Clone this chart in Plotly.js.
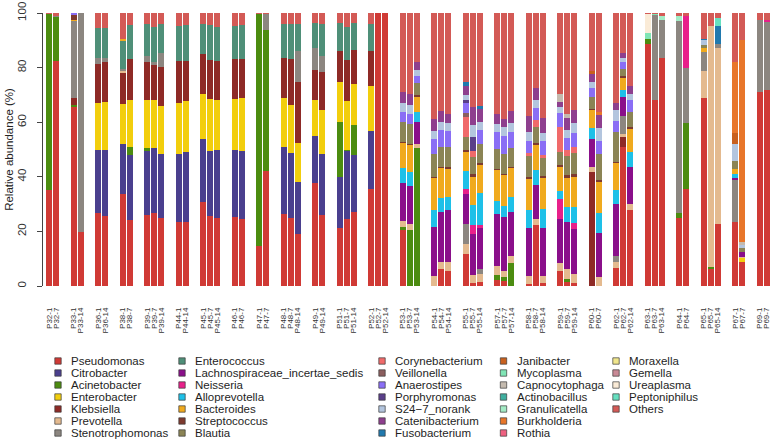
<!DOCTYPE html>
<html><head><meta charset="utf-8">
<script src="https://cdn.plot.ly/plotly-3.0.1.min.js"></script>
<style>html,body{margin:0;padding:0;background:#fff;}#chart{width:778px;height:441px;}</style>
</head><body><div id="chart"></div>
<script>
// ---------- DATA ----------
const samples = [
 "P32-1","P32-7","P33-1","P33-14","P36-1","P36-14","P38-1","P38-7","P39-1","P39-7","P39-14",
 "P44-1","P44-14","P45-1","P45-7","P45-14","P46-1","P46-7","P47-1","P47-7","P48-1","P48-7","P48-14",
 "P49-1","P49-14","P51-1","P51-7","P51-14","P52-1","P52-7","P52-14",
 "P53-1","P53-7","P53-14","P54-1","P54-7","P54-14","P55-1","P55-7","P55-14","P57-1","P57-7","P57-14",
 "P58-1","P58-7","P58-14","P59-1","P59-7","P59-14","P60-1","P60-7","P62-1","P62-7","P62-14",
 "P63-1","P63-7","P63-14","P64-1","P64-7","P65-1","P65-7","P65-14","P67-1","P67-7","P69-1","P69-7"
];

const taxa = ["Pseudomonas","Citrobacter","Acinetobacter","Enterobacter","Klebsiella","Prevotella","Stenotrophomonas",
 "Enterococcus","Lachnospiraceae_incertae_sedis","Neisseria","Alloprevotella","Bacteroides","Streptococcus","Blautia",
 "Corynebacterium","Veillonella","Anaerostipes","Porphyromonas","S24\u22127_norank","Catenibacterium","Fusobacterium",
 "Janibacter","Mycoplasma","Capnocytophaga","Actinobacillus","Granulicatella","Burkholderia","Rothia",
 "Moraxella","Gemella","Ureaplasma","Peptoniphilus","Others"];

const pseudomonas = [35.1,82.4, 65.4,19.9, 26.6,25.6, 33.7,24.1, 26,26.6,24.8, 23.5,23.5, 30.9,25.6,24.8, 25.1,24.4, 14.6,42.2, 26.3,24.8,19, 37.8,26, 21.1,24.4,27.2, 35.7,100,100,
 20.5,0,0, 0,6.1,5.6, 11.7,1,1.6, 2.2,2,0, 0.7,22.3,1, 5.6,1.6,1.2, 0,0, 6.5,51,28, 88.8,68,83.7, 24.8,35.4, 68.7,6.1,22.7, 23.5,8.9, 71.1,71.7];
const citrobacter = [0,0, 0,0, 23.4,24.1, 18.3,23.8, 23.5,23.8,23.5, 25,25.5, 22.8,23.9,25.2, 24.6,25.1, 0,0, 24.6,24,19.1, 17.1,22.3, 18.9,25.1,20.7, 21,0,0,
 0,0,0, 0,0,0, 0,0,0, 0,0,0, 0,0,0, 0,0,0, 0,0, 0,0,0, 0,0,0, 0,0, 0,0,0, 0,0, 0,0];
const acinetobacter = [64.5,16, 1,0, 0,0, 0,3, 1.2,0,0, 0,0, 0,0,0, 0,0, 84.9,51.7, 0,0,0, 0,0, 20.1,0.3,11, 0,0,0,
 1.2,20.5,50.4, 0,0,0, 0,0,0, 1.8,1.2,8.3, 0,0,0, 0,0.8,0, 0,0, 0,0,0, 1.8,0,0, 2.1,24.4, 0,0.9,0, 0,0, 0,0];
const enterobacter = [0,0, 0,0, 17.1,17.7, 14.6,17.3, 17.3,17.7,17.6, 18.5,18.9, 16.6,19.1,18, 18.9,19.2, 0,0, 17.9,17.4,14.3, 13.2,16.1, 14.6,18,15, 16.5,0,0,
 0,0,0, 0,0,0, 0,0,0, 0,0,0, 0,0,0, 0,0,0, 0,0, 0,0,0, 0,0,0, 0,0, 0,0,0, 0,1.2, 0,0];
const klebsiella = [0,0, 2.4,0, 14.4,14.6, 11.5,14.9, 14,12.8,14.4, 15.6,14.7, 14.6,14.3,14.6, 14.6,14.6, 0,0, 14.8,17.1,22.3, 11.2,14, 11.3,14.9,12.7, 12.9,0,0,
 0,0,0, 0,0,0, 0,0,0, 0,0,0, 0,0,0, 0,0,0, 41.8,0, 0,3.4,0, 0,0,0, 0,0, 0,0,0, 0,0, 0,0];
const prevotella = [0,0, 0,0, 0,0, 0.8,0, 0,0,0, 0,0, 0,0,0, 0,0, 0,0, 0,0,0, 0,0, 0,0,0, 0,0,0,
 2.2,2.2,1.6, 3.7,2.8,3.3, 3.7,3,2.7, 3.3,2.4,2.7, 2.9,2.1,2.7, 2.9,3.7,3.2, 1.8,3.2, 2.4,1.2,2.2, 0,0,0, 0,0, 10.1,88.2,64.3, 0,0.5, 0,0];
const stenotrophomonas = [0,0.4, 28.3,80.1, 2.2,1.6, 0.6,0, 2.4,1.2,4.9, 0,0, 0,0,0, 0,0, 0,5.9, 0,0,11.3, 8,5.7, 0,0,0, 0,0,0,
 0,0,0, 0,0,0, 7.3,0,1.8, 0,0,0, 0,0,0, 0,0,0, 0,0, 2.1,6.6,0, 0,31.1,13.7, 70.2,20.2, 7,0,1.8, 15.2,0, 26.5,25];
const enterococcus = [0,0, 0,0, 10.9,11, 10.1,12.6, 11.6,12.8,10.7, 12.6,13, 11.2,12.6,12.2, 12.2,12.2, 0,0, 12.4,12.6,10, 9,11.7, 10.2,12,9.8, 10,0,0,
 0,0,0, 0,0,0, 0,0,0, 0,0,0, 0,0,0, 0,0,0, 0,0, 0,0,0, 0,0,0, 0,0, 0,0,0, 0,0, 0,0];
const lachnospiraceae = [0,0, 0,0, 0,0, 0,0, 0,0,0, 0,0, 0,0,0, 0,0, 0,0, 0,0,0, 0,0, 0,0,0, 0,0,0,
 13.7,13.9,8.2, 18,18.3,19.1, 11,15.2,15, 19,19.5,16.2, 17.8,12.6,17.4, 15.9,17.4,16.3, 10.4,16.3, 19,7.1,13.4, 0,0,0, 0,0, 0,0,0, 0.9,1.8, 0,0];
const neisseria = [0,0, 0,0, 0,0, 0,0, 0,0,0, 0,0, 0,0,0, 0,0, 0,0, 0,0,0, 0,0, 0,0,0, 0,0,0,
 0,0,0, 0,0,0, 1.7,3,1.2, 0,0,0, 0,0,0, 7.3,0,2.2, 0,0, 0,0,0, 0,0,0, 0,18.8, 0,0,0, 0,0, 0,0.6];
const alloprevotella = [0,0, 0,0, 0,0, 0,0, 0,0,0, 0,0, 0,0,0, 0,0, 0,0, 0,0,0, 0,0, 0,0,0, 0,0,0,
 5.5,5.2,3.7, 6.1,4.9,4.6, 6.8,7.3,11.6, 4.9,4.1,5.5, 6.3,5.5,7, 3.2,5.5,6.1, 3.7,7.1, 5.1,2.4,5.5, 0,0,0, 0,0, 0,0,0, 1.6,0, 0,0];
const bacteroides = [0,0, 0.5,0, 0,0, 0.7,0, 0,0,0, 0,0, 0,0,0, 0,0, 0,0, 0,0,0, 0,0, 0,0,0, 0,0,0,
 9.4,9.8,5.5, 11.6,11,10.4, 7,10.4,10.4, 11.2,11.3,10.4, 11.6,9.1,11.3, 8.8,10.7,11, 6.7,11.6, 9.8,4.6,8.5, 0,0,0, 0,0, 1.2,0,0, 1.8,0, 0,0];
const streptococcus = [0,0, 1.5,0, 0,0, 0,0, 0,0,0, 0,0, 0,0,0, 0,0, 0,0, 0,0,0, 0,0, 0,0,0, 0,0,0,
 0.4,0.4,0.4, 0.6,0.6,0.5, 0.8,1,0.8, 0.6,0.6,0.6, 0.8,0.6,1, 0.6,0.8,1, 0.6,0.6, 0.6,0.5,0.6, 0,0,0, 0,0, 0,0,0, 0,0, 0,0];
const blautia = [0,0, 0,0, 0,0, 0,0, 0,0,0, 0,0, 0,0,0, 0,0, 0,0, 0,0,0, 0,0, 0,0,0, 0,0,0,
 7,7.3,4.6, 8.5,7.3,7.3, 4.6,6.3,6.8, 7.3,7.3,6.7, 7.7,5.9,6.6, 4.9,7,7.6, 4.3,9.5, 11,2.8,5.5, 0,0,0, 0,0, 1.2,0,0, 2.8,1.5, 0,0];
const corynebacterium = [0,0, 0,0, 0,0, 0,0, 0,0,0, 0,0, 0,0,0, 0,0, 0,0, 0,0,0, 0,0, 0,0,0, 0,0,0,
 0,0,0, 0,0,0, 7.3,2.4,0, 0,0,0, 0.8,2.7,1, 8.9,2.2,2.2, 0,0, 0,0,0, 0,0,0, 0,0, 0,0,0, 0,0, 0,0];
const veillonella = [0,0, 0,0, 0,0, 0,0, 0,0,0, 0,0, 0,0,0, 0,0, 0,0, 0,0,0, 0,0, 0,0,0, 0,0,0,
 0,0,0, 0,0,0, 1.6,0,0, 0,0,0, 0,0,0, 0,0,0, 0,0, 0,0,0, 0,0,0, 0,0, 0,0,0, 0,0, 0,0];
const anaerostipes = [0,0, 0.8,0, 0,0, 0,0, 0,0,0, 0,0, 0,0,0, 0,0, 0,0, 0,0,0, 0,0, 0,0,0, 0,0,0,
 3.7,3.7,2.4, 5.2,6.1,5.9, 3.4,0,5.1, 6.1,6.7,6.1, 4.4,4.3,5.1, 5.1,4.6,5.1, 3.4,4.9, 4,2.4,4.3, 0,0,0, 0,0, 0,0,0, 0,0, 0,0];
const porphyromonas = [0,0, 0,0, 0,0, 0,0, 0,0,0, 0,0, 0,0,0, 0,0, 0,0, 0,0,0, 0,0, 0,0,0, 0,0,0,
 0,0,0, 0,0,0, 1.2,4.9,0, 0,0,0, 0,0,0, 0,0,0, 0,0, 0,0,0, 0,0,0, 0,0, 0,0,0, 0,0, 0,0];
const s24_7 = [0,0, 0,0, 0,0, 0,0, 0,0,0, 0,0, 0,0,0, 0,0, 0,0, 0,0,0, 0,0, 0,0,0, 0,0,0,
 3.4,3.3,2.4, 2.9,3,2.9, 2,4.6,3, 2.8,3,3.3, 3.3,3,2.8, 2.2,2.7,3.9, 2.1,4.5, 3.9,1.6,2.4, 0,0,0, 0,0, 1.8,0,0, 6.1,1.2, 0,0];
const catenibacterium = [0,0, 0,0, 0,0, 0,0, 0,0,0, 0,0, 0,0,0, 0,0, 0,0, 0,0,0, 0,0, 0,0,0, 0,0,0,
 3.9,4,2.7, 4.4,4,3.4, 3.2,6.6,4.9, 3.9,3,4.4, 6.1,4.3,5.7, 2.1,4.6,4.6, 2.8,4.9, 2.7,1.7,3, 0,0,0, 0,0, 0,0,0, 0,0, 0,0];
const fusobacterium = [0,0, 0,0, 0,0, 0,0, 0,0,0, 0,0, 0,0,0, 0,0, 0,0, 0,0,0, 0,0, 0,0,0, 0,0,0,
 0,0,0, 0,0,0, 1.5,0,1.2, 0,0,0, 0,0,0, 0,0,0, 0,0, 0,0,0, 0,0,0, 0,0, 0.6,0,6.3, 0,0, 0,0];
const janibacter = [0,0, 0,0, 0,0, 0,0, 0,0,0, 0,0, 0,0,0, 0,0, 0,0, 0,0,0, 0,0, 0,0,0, 0,0,0,
 0,0,0, 0,0,0, 0,0,0, 0,0,0, 0,0,0, 0,0,0, 1.2,0, 0,0,0, 0,0,0, 0,0, 0,0,0, 4.1,0, 0,0];
const mycoplasma = [0,0, 0,0, 0,0, 0,0, 0,0,0, 0,0, 0,0,0, 0,0, 0,0, 0,0,0, 0,0, 0,0,0, 0,0,0,
 0,0,0, 0,0,0, 0,0,0, 0,0,0, 0,0,0, 0,0,0, 0,0, 0,0,0, 2.1,0.5,0, 0,0, 0,0,0, 0,0, 0,0];
const capnocytophaga = [0,0, 0,0, 0,0, 0,0, 0,0,0, 0,0, 0,0,0, 0,0, 0,0, 0,0,0, 0,0, 0,0,0, 0,0,0,
 0,0,0, 0,0,0, 0,0,0, 0,0,0, 0,0,0, 2.8,1.5,0, 0,0, 0,0,0, 0,0,0, 0,0, 0,0,0, 0,1.2, 0,0];
const actinobacillus = [0,0, 0,0, 0,0, 0,0, 0,0,0, 0,0, 0,0,0, 0,0, 0,0, 0,0,0, 0,0, 0,0,0, 0,0,0,
 0,0,0, 0,0,0, 0,0,0, 0,0,0, 0,0,0, 0,0,0, 0,0, 0,0,0, 0,0,0, 0,0, 0,0,0, 0,0, 0,0];
const granulicatella = [0,0, 0,0, 0,0, 0,0, 0,0,0, 0,0, 0,0,0, 0,0, 0,0, 0,0,0, 0,0, 0,0,0, 0,0,0,
 0,0,0, 0,0,0, 0,0,0, 0,0,0, 0,0,0, 0,0,0, 0,0, 0,0,0, 0,0,1.5, 1.7,0, 0,0,0, 0,0, 0,0];
const burkholderia = [0,0, 0,0, 0,0, 0,0, 0,0,0, 0,0, 0,0,0, 0,0, 0,0, 0,0,0, 0,0, 0,0,0, 0,0,0,
 0,0,0, 0,0,0, 0,0,0, 0,0,0, 0,0,0, 0,0,0, 0,1.2, 0,0,0, 0,0,0, 0,0, 0,0,0, 25.9,73.9, 0,0];
const rothia = [0,0, 0,0, 0,0, 0,0, 0,0,0, 0,0, 0,0,0, 0,0, 0,0, 0,0,0, 0,0, 0,0,0, 0,0,0,
 0,0,0, 0,0,0, 0,0,0, 0,0,0, 0,0,0, 0,0,0, 0,0, 0,0,0, 0,0,0, 0,0, 0,0,0, 0,0, 0,0];
const moraxella = [0,0, 0,0, 0,0, 0,0, 0,0,0, 0,0, 0,0,0, 0,0, 0,0, 0,0,0, 0,0, 0,0,0, 0,0,0,
 0,0,0, 0,0,0, 0,0,0, 0,0,0, 0,0,0, 0,0,0, 0,0, 0,0,0, 0,0,0, 0,0, 0,0,0, 0,0, 0,0];
const gemella = [0,0, 0,0, 0,0, 0,0, 0,0,0, 0,0, 0,0,0, 0,0, 0,0, 0,0,0, 0,0, 0,0,0, 0,0,0,
 0,0,0, 0,0,0, 0,0,0, 0,0,0, 0,0,0, 0,0,0, 0,0, 0,0,0, 0,0,0, 0,0, 0,0,0, 0,0, 0,0];
const ureaplasma = [0,0, 0,0, 0,0, 0,0, 0,0,0, 0,0, 0,0,0, 0,0, 0,0, 0,0,0, 0,0, 0,0,0, 0,0,0,
 0,0,0, 0,0,0, 0,0,0, 0,0,0, 0,0,0, 0,0,0, 0,0, 0,0,0, 6.8,0,0, 0,0, 0,0,0, 0,0, 0,0];
const peptoniphilus = [0,0, 0,0, 0,0, 0,0, 0,0,0, 0,0, 0,0,0, 0,0, 0,0, 0,0,0, 0,0, 0,0,0, 0,0,0,
 0,0,0, 0,0,0, 0,0,0, 0,0,0, 0,0,0, 0,0,0, 0,0, 0,0,0, 0,0,0, 0,0, 0,0,3.2, 0,0, 0,0];
const others = [0.4,1.2, 0.1,0, 5.4,5.4, 9.7,4.3, 4,5.1,4.1, 4.8,4.4, 3.9,4.5,5.2, 4.6,4.5, 0.5,0.2, 4,4.1,4, 3.7,4.2, 3.8,5.3,3.6, 3.9,0,0,
 29.1,30.1,18.5, 39,35.9,37, 25.2,34.3,33.9, 36.9,38.9,35.8, 37.6,27.6,38.4, 29.7,36.9,35.6, 21.2,36.2, 32.9,14.7,26.6, 0.5,0.4,1.1, 1.2,1.2, 9.4,4.8,1.7, 18.1,9.8, 2.4,2.7];

const series = [pseudomonas,citrobacter,acinetobacter,enterobacter,klebsiella,prevotella,stenotrophomonas,
 enterococcus,lachnospiraceae,neisseria,alloprevotella,bacteroides,streptococcus,blautia,
 corynebacterium,veillonella,anaerostipes,porphyromonas,s24_7,catenibacterium,fusobacterium,
 janibacter,mycoplasma,capnocytophaga,actinobacillus,granulicatella,burkholderia,rothia,
 moraxella,gemella,ureaplasma,peptoniphilus,others];

// ---------- STYLE ----------
const palette = ["#D03A35","#4A3F8E","#4C8C10","#F2CE0D","#8E2A26","#E4BA8F","#8C8680",
 "#4F8F78","#8A0F8A","#E8208A","#1EC0E8","#F0AA1E","#7D3A2F","#8B8455",
 "#F06A6A","#8B5E5E","#8A6EF5","#5A3F8A","#B3C5DE","#8E3F8E","#2079AE",
 "#C8601E","#80E5B5","#C4BAAE","#3FAF9F","#A3EBC5","#E8762A","#EE6080",
 "#F0E68C","#C98A96","#FAEBD7","#66E0C0","#D35A56"];

series.forEach((s,i)=>{ if(s.length!==samples.length) throw new Error(taxa[i]+" length "+s.length); });

// positions: one unit per bar, extra gap between patients
const GAP = 1.5;
const xpos = [];
let g = 0;
samples.forEach((s,i)=>{
  if(i>0 && s.split('-')[0]!==samples[i-1].split('-')[0]) g++;
  xpos.push(i + GAP*g);
});

const traces = series.map((vals,i)=>({
  type:'bar', name:taxa[i], x:xpos, y:vals, width:0.82,
  marker:{color:palette[i], line:{width:0}}, showlegend:false,
  textposition:'none', customdata:samples,
  hovertemplate:'%{customdata}<br>'+taxa[i]+': %{y}%<extra></extra>'
}));

// plot box in pixels
const W=778, H=441, L=43, T=13, PB=286;
const PW = W - L, PH = PB - T;
const px2x = p => (p - L)/PW;
const py2y = p => (PB - p)/PH;

const FONT = "Liberation Sans, Arial, Helvetica, sans-serif";
const colSw = [58, 182, 382, 503.5, 616];
const rowY0 = 361, rowStep = 12, perCol = 7, sw = 3.2;
const shapes = [], annotations = [];
taxa.forEach((name,i)=>{
  const c = Math.floor(i/perCol), r = i % perCol;
  const cx = colSw[c], cy = rowY0 + r*rowStep;
  shapes.push({type:'rect', xref:'paper', yref:'paper',
    x0:px2x(cx-sw), x1:px2x(cx+sw), y0:py2y(cy+sw), y1:py2y(cy-sw),
    fillcolor:palette[i], line:{color:'#3a3a3a', width:0.7}});
  annotations.push({xref:'paper', yref:'paper', x:px2x(cx+11), y:py2y(cy),
    xanchor:'left', yanchor:'middle', showarrow:false, text:name,
    font:{family:FONT, size:11.5, color:'#1e1e1e'}});
});

const layout = {
  width:W, height:H, margin:{l:L, r:0, t:T, b:H-PB, pad:0},
  paper_bgcolor:'#fff', plot_bgcolor:'#fff',
  barmode:'stack', bargap:0, showlegend:false,
  font:{family:FONT, color:'#222'},
  xaxis:{range:[-0.886, 104.1], tickmode:'array', tickvals:xpos, ticktext:samples,
    tickangle:-90, ticks:'', showgrid:false, zeroline:false, showline:false,
    tickfont:{family:FONT, size:8, color:'#333'}, ticklabelstandoff:19, automargin:false},
  yaxis:{range:[0,100], tickvals:[0,20,40,60,80,100], ticks:'outside', ticklen:5,
    tickcolor:'#444', tickwidth:1, showline:true, linecolor:'#444', linewidth:1,
    showgrid:false, zeroline:false, tickangle:-90, ticklabelstandoff:6,
    tickfont:{family:FONT, size:11.5, color:'#333'}, automargin:false,
    title:{text:'Relative abundance (%)', font:{family:FONT, size:11.5, color:'#222'}, standoff:0}},
  shapes:shapes, annotations:annotations
};

Plotly.newPlot('chart', traces, layout, {displayModeBar:false, staticPlot:true});
</script>
</body></html>
